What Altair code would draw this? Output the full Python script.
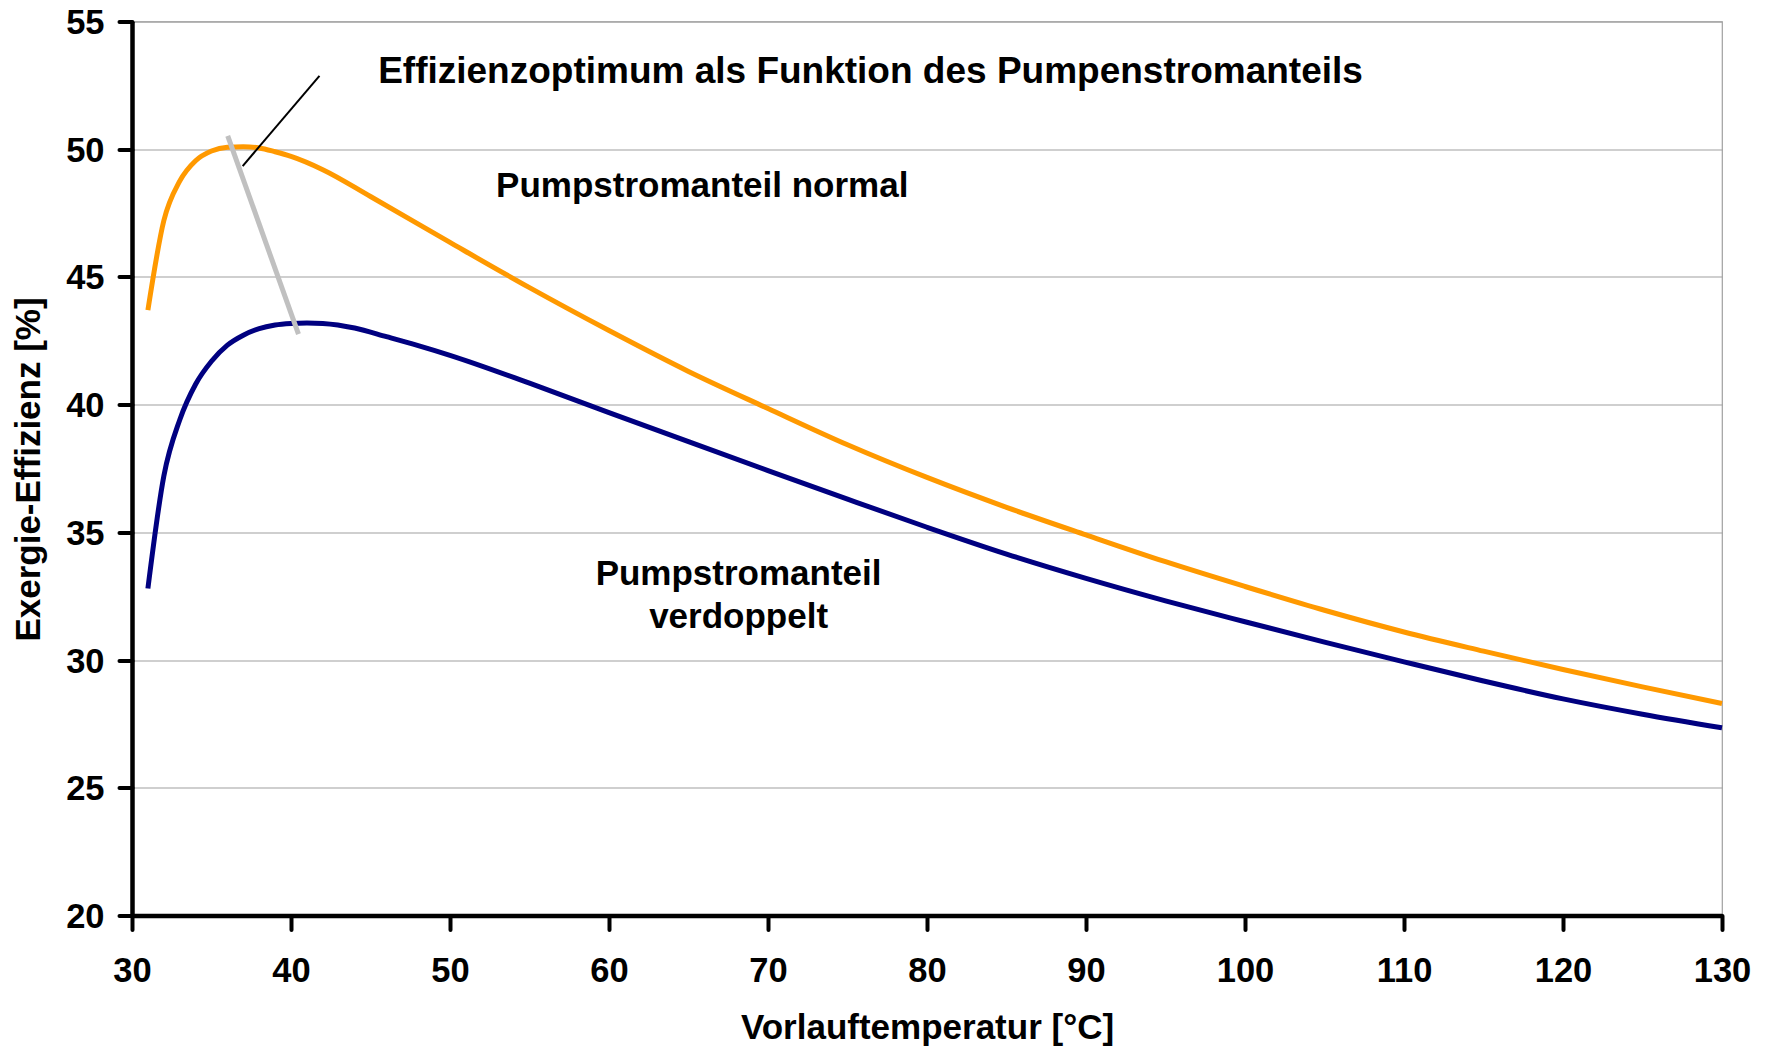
import altair as alt
import pandas as pd

FONT = "Liberation Sans"

# ---- data ----
temp_normal = [31, 32, 33, 34, 35, 36, 37, 38, 39, 40, 42, 45, 50, 55, 60, 65, 70, 75,
               80, 85, 90, 95, 100, 105, 110, 115, 120, 125, 130]
eff_normal = [43.7, 47.2, 48.75, 49.55, 49.93, 50.08, 50.1, 50.05, 49.9, 49.72, 49.2, 48.15,
              46.35, 44.58, 42.9, 41.3, 39.85, 38.43, 37.15, 35.98, 34.9, 33.85, 32.88,
              31.95, 31.1, 30.35, 29.63, 28.95, 28.3]

temp_double = [31, 32, 33, 34, 35, 36, 37, 38, 39, 40, 41, 42, 44, 46, 48, 50, 55, 60, 65,
               70, 75, 80, 85, 90, 95, 100, 105, 110, 115, 120, 125, 130]
eff_double = [32.8, 37.2, 39.4, 40.8, 41.7, 42.33, 42.72, 42.98, 43.12, 43.18, 43.2, 43.18,
              43.0, 42.66, 42.31, 41.93, 40.84, 39.69, 38.55, 37.42, 36.3, 35.2, 34.15,
              33.2, 32.32, 31.5, 30.7, 29.93, 29.18, 28.48, 27.88, 27.35]

x_ticks = [30, 40, 50, 60, 70, 80, 90, 100, 110, 120, 130]
y_ticks = [20, 25, 30, 35, 40, 45, 50, 55]

# optimum line (grey) and pointer line (black)
opt_x = [36.02]
opt_x2 = [40.47]
opt_y = [50.52]
opt_y2 = [42.76]
ptr_x = [41.79]
ptr_x2 = [36.96]
ptr_y = [52.87]
ptr_y2 = [49.34]

# annotations
head_text = ["Effizienzoptimum als Funktion des Pumpenstromanteils"]
head_x = [45.48]
head_y = [52.60]
normal_text = ["Pumpstromanteil normal"]
normal_x = [52.9]
normal_y = [48.14]
double_text = ["Pumpstromanteil", "verdoppelt"]
double_x = [68.15, 68.15]
double_y = [32.95, 31.27]

series_names = ["normal", "verdoppelt"]
series_colors = ["#FF9900", "#000080"]

X_TITLE = "Vorlauftemperatur [°C]"
Y_TITLE = "Exergie-Effizienz [%]"

curves = pd.DataFrame({
    "t": temp_normal + temp_double,
    "e": eff_normal + eff_double,
    "s": ["normal"] * len(temp_normal) + ["verdoppelt"] * len(temp_double),
})

x_scale = alt.Scale(domain=[30, 130], nice=False, zero=False)
y_scale = alt.Scale(domain=[20, 55], nice=False, zero=False)

x_axis = alt.Axis(
    values=x_ticks, format="d", grid=False,
    domainColor="black", domainWidth=4.5,
    tickColor="black", tickWidth=4, tickSize=14, tickCap="round",
    labelFont=FONT, labelFontSize=34.5, labelFontWeight="bold", labelColor="black",
    labelPadding=25, labelFlush=False, labelOverlap=False,
    titleFont=FONT, titleFontSize=35,
    titleFontWeight="bold", titleColor="black",
    titleX=795, titleY=123, titleAlign="center", titleBaseline="alphabetic",
)
y_axis = alt.Axis(
    values=y_ticks, format="d", grid=True, gridColor="#A0A0A0", gridWidth=1.2,
    domainColor="black", domainWidth=4.5,
    tickColor="black", tickWidth=4, tickSize=13, tickCap="round",
    labelFont=FONT, labelFontSize=34.5, labelFontWeight="bold", labelColor="black",
    labelPadding=15, labelOverlap=False, labelOffset=2,
    titleFont=FONT, titleFontSize=35,
    titleFontWeight="bold", titleColor="black",
    titleX=-93, titleY=447.5, titleAngle=270, titleAlign="center",
    titleBaseline="alphabetic",
)

lines = alt.Chart(curves).mark_line(strokeWidth=5, interpolate="monotone").encode(
    x=alt.X("t:Q", scale=x_scale, axis=x_axis, title=X_TITLE),
    y=alt.Y("e:Q", scale=y_scale, axis=y_axis, title=Y_TITLE),
    color=alt.Color("s:N", scale=alt.Scale(domain=series_names, range=series_colors),
                    legend=None),
)

opt_df = pd.DataFrame({"x": opt_x, "x2": opt_x2, "y": opt_y, "y2": opt_y2})
opt_rule = alt.Chart(opt_df).mark_rule(color="#C0C0C0", strokeWidth=5).encode(
    x=alt.X("x:Q", scale=x_scale, title=X_TITLE), x2="x2:Q",
    y=alt.Y("y:Q", scale=y_scale, title=Y_TITLE), y2="y2:Q",
)

ptr_df = pd.DataFrame({"x": ptr_x, "x2": ptr_x2, "y": ptr_y, "y2": ptr_y2})
ptr_rule = alt.Chart(ptr_df).mark_rule(color="black", strokeWidth=2).encode(
    x=alt.X("x:Q", scale=x_scale, title=X_TITLE), x2="x2:Q",
    y=alt.Y("y:Q", scale=y_scale, title=Y_TITLE), y2="y2:Q",
)


def text_layer(texts, xs, ys, size, align):
    df = pd.DataFrame({"txt": texts, "x": xs, "y": ys})
    return alt.Chart(df).mark_text(
        font=FONT, fontSize=size, fontWeight="bold", color="black",
        align=align, baseline="alphabetic",
    ).encode(
        x=alt.X("x:Q", scale=x_scale, title=X_TITLE),
        y=alt.Y("y:Q", scale=y_scale, title=Y_TITLE),
        text="txt:N",
    )


head = text_layer(head_text, head_x, head_y, 37, "left")
normal_lbl = text_layer(normal_text, normal_x, normal_y, 35, "left")
double_lbl = text_layer(double_text, double_x, double_y, 35, "center")

chart = alt.layer(lines, opt_rule, ptr_rule, head, normal_lbl, double_lbl).properties(
    width=1590, height=894,
    padding={"left": 124, "top": 13.5, "right": 35, "bottom": 135},
    autosize=alt.AutoSizeParams(type="none"),
    background="white",
).configure_view(stroke="#A0A0A0", strokeWidth=1.2)

chart.save("out.html", embed_options={"renderer": "svg", "actions": False})
